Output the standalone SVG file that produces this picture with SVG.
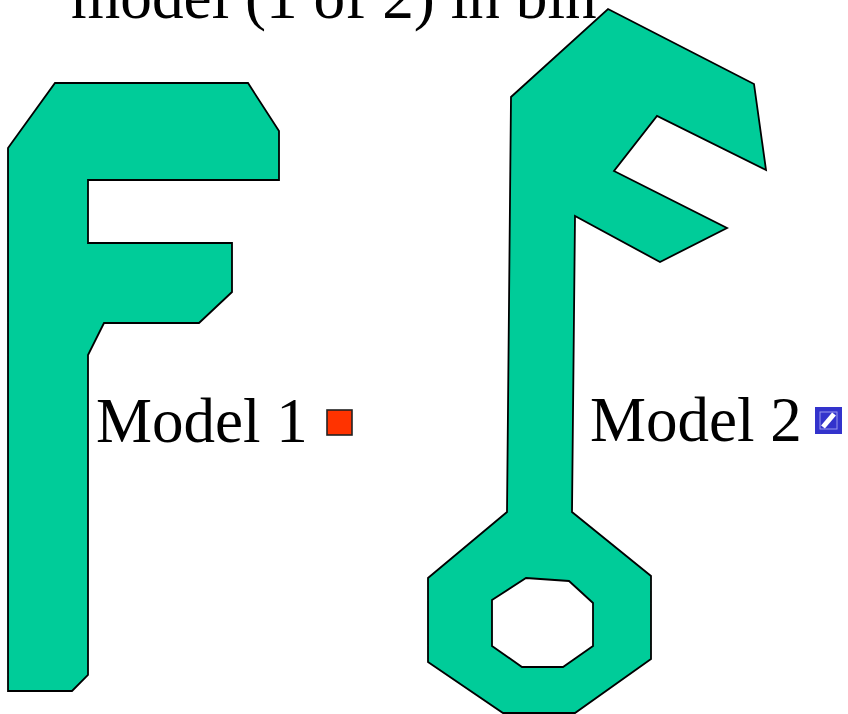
<svg xmlns="http://www.w3.org/2000/svg" width="848" height="714" viewBox="0 0 848 714">
<style>
.shape{fill:#00cc99;stroke:#000;stroke-width:1.8;stroke-linejoin:miter}
.t{font-family:"Liberation Serif","Times New Roman",serif;fill:#000}
</style>
<rect width="848" height="714" fill="#fff"/>
<text class="t" x="71" y="18" font-size="63.3">model (1 of 2) in bin</text>
<g id="model1">
<polygon class="shape" points="55,83 248,83 279,131 279,180 88,180 88,243 232,243 232,292 199,323 104,323 88,355 88,675 72,691 8,691 8,148"/>
<text class="t" x="96" y="442" font-size="63">Model 1</text>
<rect x="327" y="410" width="25" height="25" fill="#ff3300" stroke="#222" stroke-width="1.6"/>
</g>
<g id="model2">
<path class="shape" fill-rule="evenodd" d="M608,9 L754,84 L766,170 L657,116 L614,171 L727,228 L660,262 L575,216 L572,512 L651,576 L651,659 L575,713 L503,713 L428,662 L428,578 L507,512 L511,97 Z M526,578 L569,581 L593,603 L593,646 L563,667 L522,667 L492,646 L492,600 Z"/>
<text class="t" x="590" y="441" font-size="63">Model 2</text>
<rect x="815" y="407" width="27" height="27" fill="#3333cc"/>
<rect x="820" y="412" width="17" height="17" fill="none" stroke="#9999ee" stroke-width="1"/>
<line x1="823" y1="427" x2="834" y2="414" stroke="#fff" stroke-width="5"/>
</g>
<g id="connectors"></g>
</svg>
